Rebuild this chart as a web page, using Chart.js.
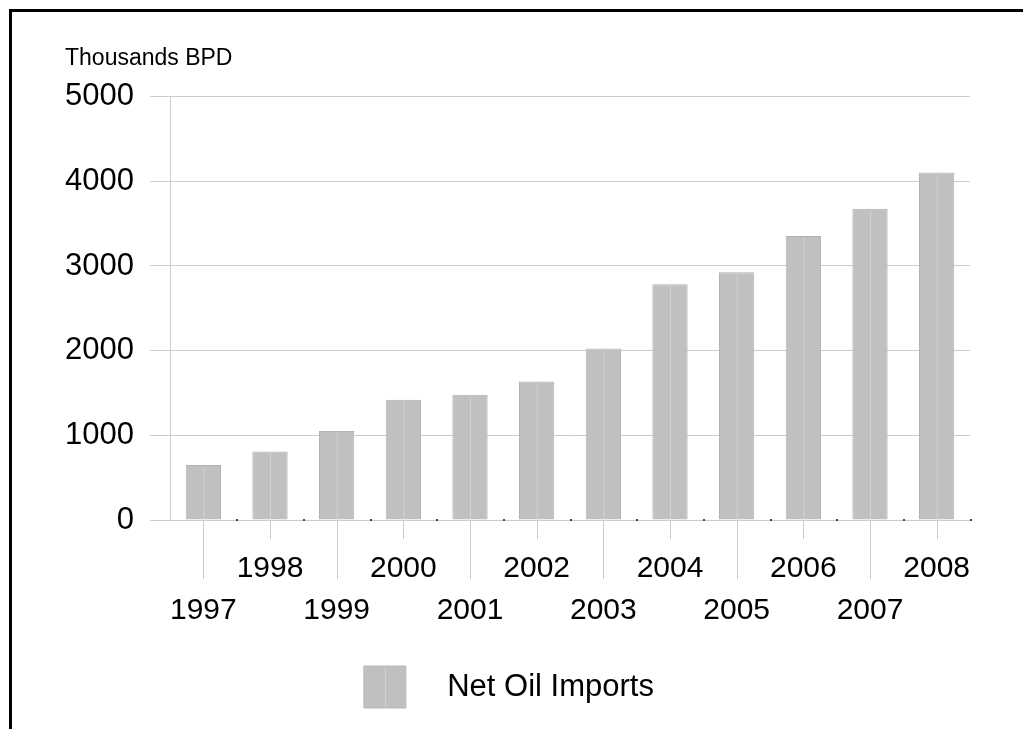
<!DOCTYPE html>
<html>
<head>
<meta charset="utf-8">
<script src="https://cdn.jsdelivr.net/npm/chart.js@4/dist/chart.umd.min.js"></script>
<style>
  html, body { margin: 0; padding: 0; background: #fff; }
  #wrap { position: relative; width: 1023px; height: 729px; overflow: hidden; }
  #frame { position: absolute; left: 9px; top: 9px; right: -10px; bottom: -10px;
           border-top: 3px solid #000; border-left: 3px solid #000; pointer-events: none; }
  canvas { position: absolute; left: 0; top: 0; }
</style>
</head>
<body>
<div id="wrap">
  <canvas id="chart" width="1023" height="729"></canvas>
  <div id="frame"></div>
</div>
<script>
  // data
  var years = ['1997', '1998', '1999', '2000', '2001', '2002', '2003', '2004', '2005', '2006', '2007', '2008'];
  var netOilImports = [650, 810, 1050, 1420, 1480, 1635, 2025, 2785, 2925, 3355, 3675, 4105];
  var seriesName = 'Net Oil Imports';
  var axisTitle = 'Thousands BPD';

  var barGrey = '#c0c0c0';
  var gridGrey = '#cccccc';
  var font = 'Liberation Sans, Arial, sans-serif';

  // light streak on each bar, ticks under the axis, dots between categories
  var decor = {
    id: 'decor',
    afterDatasetsDraw: function (chart) {
      var ctx = chart.ctx;
      var area = chart.chartArea;
      var xs = chart.scales.x;
      var meta = chart.getDatasetMeta(0);
      var step = xs.getPixelForValue(1) - xs.getPixelForValue(0);
      ctx.save();
      ctx.lineWidth = 1;
      meta.data.forEach(function (bar) {
        ctx.strokeStyle = '#d2d2d2';
        ctx.beginPath();
        ctx.moveTo(bar.x + 0.5, bar.y + 2);
        ctx.lineTo(bar.x + 0.5, bar.base);
        ctx.stroke();
      });
      years.forEach(function (y, i) {
        var px = Math.round(xs.getPixelForValue(i)) + 0.5;
        ctx.strokeStyle = gridGrey;
        ctx.beginPath();
        ctx.moveTo(px, area.bottom);
        ctx.lineTo(px, area.bottom + (i % 2 ? 19 : 59));
        ctx.stroke();
        ctx.fillStyle = '#444';
        ctx.fillRect(Math.round(px + step / 2) - 1, area.bottom - 1, 2, 2);
      });
      ctx.restore();
    },
    afterDraw: function (chart) {
      var ctx = chart.ctx;
      var boxes = chart.legend.legendHitBoxes || [];
      ctx.save();
      ctx.strokeStyle = '#d2d2d2';
      ctx.lineWidth = 1;
      boxes.forEach(function (b) {
        var cx = Math.round(b.left + 21) + 0.5;
        ctx.beginPath();
        ctx.moveTo(cx, b.top + 1);
        ctx.lineTo(cx, b.top + 41);
        ctx.stroke();
      });
      ctx.restore();
    }
  };

  var ctx = document.getElementById('chart').getContext('2d');
  new Chart(ctx, {
    type: 'bar',
    data: {
      labels: years,
      datasets: [{
        label: seriesName,
        data: netOilImports,
        backgroundColor: barGrey,
        borderColor: '#b2b2b2',
        borderWidth: 1,
        barPercentage: 0.53,
        categoryPercentage: 1
      }]
    },
    options: {
      responsive: false,
      animation: false,
      layout: { padding: { left: 65, right: 53, top: 45, bottom: 11 } },
      plugins: {
        title: {
          display: true,
          text: axisTitle,
          align: 'start',
          color: '#000',
          font: { family: font, size: 23, weight: 'normal' },
          padding: { top: 0, bottom: 24 }
        },
        legend: {
          position: 'bottom',
          labels: {
            color: '#000',
            boxWidth: 42,
            boxHeight: 42,
            font: { family: font, size: 31 },
            generateLabels: function (chart) {
              return [{
                text: '   ' + seriesName + '  ',
                fillStyle: barGrey,
                strokeStyle: '#b8b8b8',
                lineWidth: 1,
                datasetIndex: 0
              }];
            }
          }
        },
        tooltip: { enabled: false }
      },
      scales: {
        x: {
          grid: { display: false, drawTicks: false },
          border: { display: false },
          ticks: {
            color: '#000',
            padding: 28,
            maxRotation: 0,
            autoSkip: false,
            font: { family: font, size: 30, lineHeight: 1.4 },
            callback: function (v, i) {
              return i % 2 ? [years[i], ''] : ['', years[i]];
            }
          },
          afterFit: function (s) { s.height = 136; }
        },
        y: {
          min: 0,
          max: 5000,
          grid: { color: gridGrey, lineWidth: 1, tickLength: 20, tickColor: gridGrey },
          border: { display: true, color: gridGrey },
          ticks: {
            stepSize: 1000,
            color: '#000',
            padding: 16,
            font: { family: font, size: 31 },
            callback: function (v) { return String(v); }
          },
          afterFit: function (s) { s.width = 105; }
        }
      }
    },
    plugins: [decor]
  });
</script>
</body>
</html>
